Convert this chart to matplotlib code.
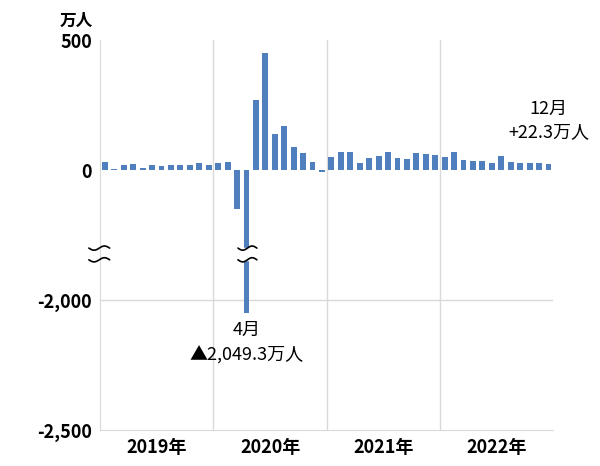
import matplotlib
matplotlib.use("Agg")
import matplotlib.pyplot as plt
import numpy as np

plt.rcParams['font.family'] = ['Noto Sans CJK JP', 'DejaVu Sans']

years = ["2019年", "2020年", "2021年", "2022年"]
values = [31, 6, 19, 22, 8, 19, 17, 18, 19, 19, 26, 18,
          27, 33, -150, -2049.3, 268, 451, 138, 169, 90, 65, 30, -6,
          52, 71, 70, 27, 45, 56, 69, 48, 42, 65, 60, 58,
          50, 70, 40, 36, 36, 29, 54, 32, 27, 26, 26, 22.3]
tick_vals = [500, 0, -2000, -2500]
tick_labels = ["500", "0", "-2,000", "-2,500"]

SHIFT = 1500
def tr(v):
    return v + SHIFT if v <= -2000 else v

fig = plt.figure(figsize=(6, 4.66), dpi=100)
ax = fig.add_axes([0.167, 0.077, 0.755, 0.837])
x = np.arange(len(values))
ax.bar(x, [tr(v) for v in values], width=0.62, color='#4f7fbd', zorder=3)
ax.set_xlim(-0.5, len(values) - 0.5)
ax.set_ylim(-1000, 500)
ax.set_yticks([tr(v) for v in tick_vals])
ax.set_yticklabels(tick_labels, fontsize=13, fontweight='bold')
ax.set_xticks([5.5, 17.5, 29.5, 41.5])
ax.set_xticklabels(years, fontsize=13, fontweight='bold')
ax.tick_params(length=0, pad=6)
for xv in [11.5, 23.5, 35.5]:
    ax.axvline(xv, color='#d9d9d9', lw=1, zorder=1)
ax.axhline(tr(-2000), color='#d9d9d9', lw=1, zorder=1)
for s in ax.spines.values():
    s.set_color('#d9d9d9')
ax.spines['top'].set_visible(False)
ax.spines['right'].set_visible(False)

# break marks
ax.fill_between([14.6, 15.4], -345, -300, color='white', zorder=4)
def squiggle(xc, yc, w=2.2):
    t = np.linspace(-1, 1, 40)
    ax.plot(xc + t * w / 2, yc + 8 * np.sin(t * np.pi), color='black', lw=1.2,
            zorder=5, clip_on=False, solid_capstyle='round')
for yc in (-300, -345):
    squiggle(-0.6, yc, 2.2)
    squiggle(15.1, yc, 2.0)

fig.text(0.1, 0.955, "万人", fontsize=12, fontweight='bold', ha='left', va='center')
ax.text(15, -580, "4月\n▲2,049.3万人", fontsize=13, ha='center', va='top', linespacing=1.5)
ax.text(47, 110, "12月\n+22.3万人", fontsize=13, ha='center', va='bottom', linespacing=1.4)

fig.savefig("out.png", dpi=100)
